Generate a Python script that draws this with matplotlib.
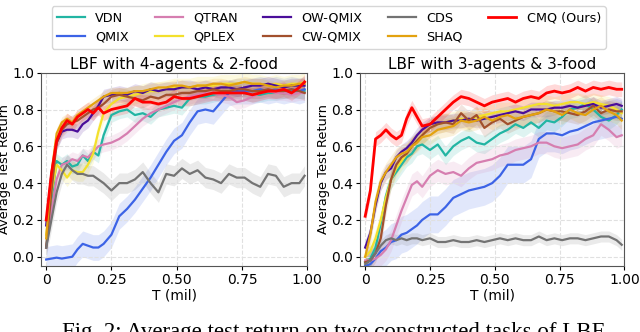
import numpy as np
import matplotlib
matplotlib.use("Agg")
import matplotlib.pyplot as plt

# ---- data ----
T = [0, 0.02, 0.04, 0.06, 0.08, 0.10, 0.12, 0.14, 0.16, 0.18, 0.20, 0.22, 0.25, 0.28,
     0.31, 0.34, 0.37, 0.40, 0.43, 0.46, 0.49, 0.52, 0.55, 0.58, 0.61, 0.64, 0.67, 0.70,
     0.73, 0.76, 0.79, 0.82, 0.85, 0.88, 0.91, 0.94, 0.97, 0.99]

methods = ['VDN', 'QMIX', 'QTRAN', 'QPLEX', 'OW-QMIX', 'CW-QMIX', 'CDS', 'SHAQ', 'CMQ (Ours)']
colors = ['#22b5a3', '#3c63e6', '#d67eb0', '#f3e02c', '#4a0e9a', '#a2502d', '#737373', '#e3a20f', '#ff0000']

# LBF 4-agents & 2-food
vdn_a = [0.05, 0.30, 0.52, 0.50, 0.52, 0.49, 0.50, 0.55, 0.52, 0.57, 0.55, 0.66, 0.77, 0.79,
         0.80, 0.77, 0.78, 0.76, 0.80, 0.81, 0.82, 0.81, 0.86, 0.87, 0.87, 0.88, 0.89, 0.89,
         0.90, 0.89, 0.88, 0.88, 0.89, 0.89, 0.90, 0.90, 0.90, 0.90]
qmix_a = [-0.015, -0.01, -0.005, -0.01, -0.005, 0.0, 0.04, 0.07, 0.06, 0.05, 0.05, 0.07, 0.12, 0.22,
          0.26, 0.31, 0.37, 0.43, 0.50, 0.57, 0.63, 0.66, 0.73, 0.79, 0.80, 0.79, 0.84, 0.89,
          0.90, 0.90, 0.90, 0.91, 0.90, 0.91, 0.90, 0.91, 0.90, 0.91]
qtran_a = [0.05, 0.25, 0.42, 0.50, 0.51, 0.53, 0.52, 0.55, 0.54, 0.57, 0.60, 0.61, 0.62, 0.64,
           0.67, 0.71, 0.75, 0.78, 0.80, 0.82, 0.84, 0.86, 0.87, 0.88, 0.89, 0.89, 0.88, 0.87,
           0.84, 0.85, 0.87, 0.89, 0.90, 0.89, 0.89, 0.88, 0.89, 0.89]
qplex_a = [0.12, 0.35, 0.50, 0.47, 0.43, 0.47, 0.46, 0.46, 0.50, 0.56, 0.68, 0.78, 0.83, 0.86,
           0.87, 0.88, 0.89, 0.90, 0.90, 0.91, 0.92, 0.92, 0.92, 0.93, 0.93, 0.93, 0.94, 0.94,
           0.94, 0.95, 0.94, 0.94, 0.93, 0.94, 0.93, 0.94, 0.94, 0.95]
ow_a = [0.17, 0.45, 0.62, 0.68, 0.69, 0.69, 0.68, 0.72, 0.74, 0.78, 0.82, 0.87, 0.88, 0.89,
        0.88, 0.90, 0.89, 0.91, 0.90, 0.91, 0.91, 0.92, 0.92, 0.91, 0.92, 0.91, 0.92, 0.92,
        0.91, 0.92, 0.93, 0.93, 0.94, 0.93, 0.92, 0.93, 0.93, 0.93]
cw_a = [0.05, 0.35, 0.62, 0.69, 0.72, 0.73, 0.74, 0.76, 0.78, 0.80, 0.81, 0.83, 0.87, 0.88,
        0.87, 0.86, 0.85, 0.87, 0.86, 0.88, 0.88, 0.89, 0.89, 0.90, 0.90, 0.91, 0.90, 0.90,
        0.91, 0.91, 0.90, 0.90, 0.91, 0.90, 0.90, 0.91, 0.90, 0.89]
cds_a = [0.05, 0.20, 0.35, 0.45, 0.50, 0.47, 0.45, 0.45, 0.44, 0.44, 0.42, 0.40, 0.36, 0.40,
         0.40, 0.42, 0.46, 0.40, 0.35, 0.45, 0.44, 0.48, 0.45, 0.47, 0.43, 0.42, 0.40, 0.45,
         0.43, 0.43, 0.40, 0.38, 0.45, 0.44, 0.38, 0.40, 0.40, 0.44]
shaq_a = [0.10, 0.45, 0.67, 0.73, 0.75, 0.73, 0.77, 0.79, 0.81, 0.83, 0.85, 0.87, 0.89, 0.89,
          0.89, 0.90, 0.90, 0.91, 0.92, 0.92, 0.93, 0.93, 0.92, 0.93, 0.93, 0.94, 0.94, 0.93,
          0.94, 0.95, 0.94, 0.94, 0.93, 0.92, 0.93, 0.93, 0.94, 0.94]
cmq_a = [0.20, 0.45, 0.63, 0.70, 0.74, 0.72, 0.76, 0.78, 0.80, 0.78, 0.81, 0.78, 0.80, 0.81,
         0.82, 0.86, 0.84, 0.84, 0.83, 0.84, 0.87, 0.86, 0.86, 0.87, 0.88, 0.89, 0.89, 0.89,
         0.89, 0.89, 0.88, 0.89, 0.90, 0.90, 0.91, 0.89, 0.92, 0.95]

# LBF 3-agents & 3-food
vdn_b = [-0.03, -0.01, 0.05, 0.18, 0.33, 0.42, 0.46, 0.50, 0.54, 0.56, 0.60, 0.61, 0.58, 0.61,
         0.55, 0.60, 0.63, 0.65, 0.62, 0.61, 0.64, 0.67, 0.69, 0.72, 0.70, 0.73, 0.70, 0.74,
         0.73, 0.76, 0.80, 0.81, 0.83, 0.80, 0.76, 0.74, 0.77, 0.80]
qmix_b = [-0.05, -0.04, -0.01, 0.03, 0.05, 0.08, 0.09, 0.12, 0.13, 0.15, 0.17, 0.20, 0.23, 0.23,
          0.27, 0.32, 0.34, 0.36, 0.37, 0.38, 0.40, 0.44, 0.50, 0.50, 0.50, 0.53, 0.64, 0.67,
          0.67, 0.66, 0.68, 0.69, 0.71, 0.73, 0.74, 0.75, 0.76, 0.75]
qtran_b = [-0.02, -0.02, -0.01, 0.01, 0.04, 0.09, 0.17, 0.25, 0.32, 0.39, 0.41, 0.38, 0.44, 0.47,
           0.45, 0.46, 0.44, 0.48, 0.51, 0.52, 0.53, 0.55, 0.56, 0.58, 0.59, 0.60, 0.62, 0.62,
           0.60, 0.59, 0.60, 0.61, 0.64, 0.66, 0.72, 0.69, 0.65, 0.66]
qplex_b = [0.0, 0.03, 0.10, 0.20, 0.32, 0.42, 0.48, 0.52, 0.56, 0.60, 0.63, 0.66, 0.70, 0.72,
           0.73, 0.74, 0.75, 0.74, 0.76, 0.77, 0.78, 0.79, 0.79, 0.80, 0.81, 0.82, 0.83, 0.83,
           0.82, 0.83, 0.84, 0.84, 0.83, 0.84, 0.83, 0.82, 0.80, 0.78]
ow_b = [0.05, 0.13, 0.28, 0.40, 0.46, 0.48, 0.54, 0.57, 0.59, 0.62, 0.66, 0.69, 0.72, 0.73,
        0.73, 0.74, 0.74, 0.75, 0.74, 0.75, 0.76, 0.77, 0.78, 0.79, 0.78, 0.80, 0.80, 0.80,
        0.81, 0.81, 0.82, 0.81, 0.82, 0.83, 0.81, 0.82, 0.83, 0.82]
cw_b = [-0.03, -0.02, 0.02, 0.10, 0.28, 0.42, 0.50, 0.54, 0.56, 0.60, 0.63, 0.66, 0.70, 0.72,
        0.73, 0.72, 0.78, 0.74, 0.77, 0.70, 0.73, 0.75, 0.72, 0.74, 0.76, 0.77, 0.78, 0.80,
        0.79, 0.79, 0.78, 0.77, 0.79, 0.82, 0.78, 0.80, 0.79, 0.79]
cds_b = [-0.04, -0.02, 0.02, 0.06, 0.09, 0.10, 0.09, 0.10, 0.09, 0.10, 0.10, 0.09, 0.10, 0.08,
         0.08, 0.09, 0.08, 0.08, 0.09, 0.08, 0.09, 0.10, 0.09, 0.10, 0.09, 0.09, 0.11, 0.09,
         0.10, 0.09, 0.10, 0.10, 0.09, 0.10, 0.11, 0.11, 0.09, 0.065]
shaq_b = [0.0, 0.12, 0.30, 0.41, 0.46, 0.50, 0.54, 0.56, 0.57, 0.60, 0.62, 0.65, 0.66, 0.69,
          0.70, 0.71, 0.74, 0.73, 0.74, 0.76, 0.74, 0.76, 0.77, 0.75, 0.76, 0.77, 0.78, 0.80,
          0.79, 0.77, 0.80, 0.78, 0.77, 0.80, 0.82, 0.79, 0.77, 0.74]
cmq_b = [0.22, 0.36, 0.64, 0.66, 0.69, 0.66, 0.64, 0.66, 0.75, 0.81, 0.76, 0.71, 0.72, 0.76,
         0.80, 0.84, 0.87, 0.86, 0.84, 0.82, 0.84, 0.85, 0.86, 0.84, 0.86, 0.87, 0.86, 0.89,
         0.90, 0.89, 0.90, 0.92, 0.90, 0.92, 0.91, 0.92, 0.91, 0.91]

# half width of the shaded band for each method
band_a = [0.04, 0.07, 0.04, 0.05, 0.04, 0.04, 0.055, 0.03, 0.04]
band_b = [0.05, 0.10, 0.06, 0.05, 0.04, 0.05, 0.03, 0.05, 0.04]

panels = [
    ('LBF with 4-agents & 2-food', [vdn_a, qmix_a, qtran_a, qplex_a, ow_a, cw_a, cds_a, shaq_a, cmq_a], band_a),
    ('LBF with 3-agents & 3-food', [vdn_b, qmix_b, qtran_b, qplex_b, ow_b, cw_b, cds_b, shaq_b, cmq_b], band_b),
]

fig = plt.figure(figsize=(6.4, 3.32), dpi=100)
ax_pos = [[0.064, 0.199, 0.416, 0.582], [0.5625, 0.199, 0.413, 0.582]]

handles = []
for k, (title, series, bands) in enumerate(panels):
    ax = fig.add_axes(ax_pos[k])
    x = np.array(T)
    for i, name in enumerate(methods):
        y = np.array(series[i])
        lw = 2.0 if name.startswith('CMQ') else 1.6
        ax.fill_between(x, y - bands[i], y + bands[i], color=colors[i], alpha=0.15, lw=0)
        line, = ax.plot(x, y, color=colors[i], lw=lw, label=name)
        if k == 0:
            handles.append(line)
    ax.set_xlim(-0.02, 1.0)
    ax.set_ylim(-0.05, 1.0)
    ax.set_xticks([0, 0.25, 0.5, 0.75, 1.0])
    ax.set_xticklabels(['0', '0.25', '0.50', '0.75', '1.00'])
    ax.set_yticks([0.0, 0.2, 0.4, 0.6, 0.8, 1.0])
    ax.tick_params(labelsize=10, length=3, pad=2)
    ax.grid(True, ls='--', color='#e0e0e0', lw=0.8)
    for s in ax.spines.values():
        s.set_color('#555555')
    ax.set_title(title, fontsize=11, pad=3)
    ax.set_xlabel('T (mil)', fontsize=10, labelpad=1)
    ax.set_ylabel('Average Test Return', fontsize=9.3, labelpad=0.5)

fig.legend(handles, methods, loc='upper center', bbox_to_anchor=(0.514, 1.0), ncol=5,
           fontsize=9.2, handlelength=2.2, handletextpad=0.8, columnspacing=2.0,
           frameon=True, borderpad=0.4, labelspacing=0.5)

fig.text(62 / 640, -0.018, 'Fig. 2: Average test return on two constructed tasks of LBF.',
         ha='left', va='baseline', fontsize=16.5, family='Liberation Serif')

fig.savefig('out.png', dpi=100)
